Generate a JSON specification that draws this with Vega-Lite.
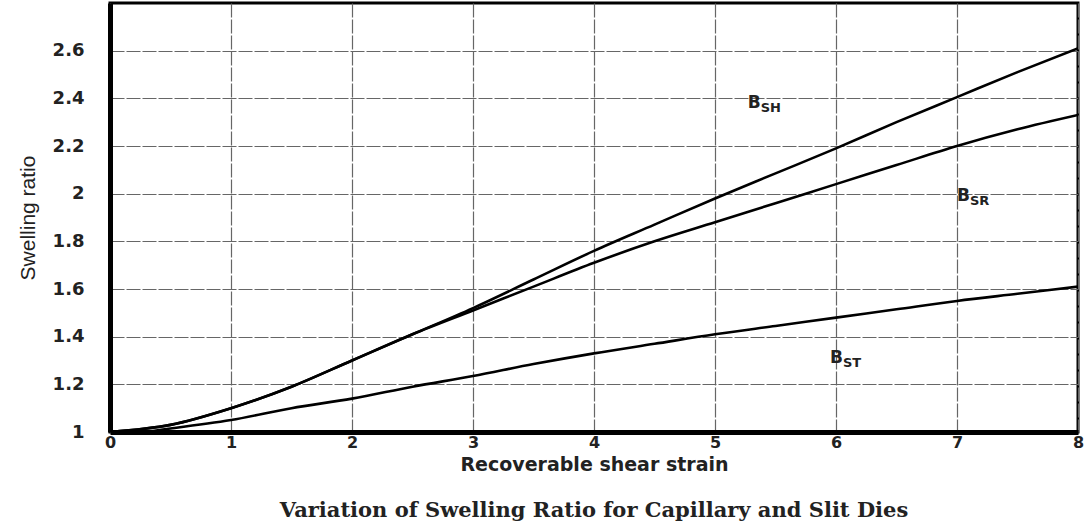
{
  "$schema": "https://vega.github.io/schema/vega-lite/v6.json",
  "autosize": "none",
  "width": 968,
  "height": 429,
  "padding": {"left": 110, "top": 3, "right": 6, "bottom": 91},
  "background": "white",
  "title": {
    "text": "Variation of Swelling Ratio for Capillary and Slit Dies",
    "orient": "bottom",
    "anchor": "middle",
    "font": "DejaVu Serif",
    "fontSize": 21,
    "fontWeight": "bold",
    "color": "#222",
    "offset": 26
  },
  "config": {
    "view": {"stroke": "black", "strokeWidth": 3},
    "axis": {
      "labelFont": "DejaVu Sans",
      "labelFontWeight": "bold",
      "labelFontSize": 18,
      "labelColor": "#222",
      "titleFont": "DejaVu Sans",
      "titleColor": "#222",
      "gridColor": "#666",
      "gridWidth": 1.2,
      "gridDash": [14, 2],
      "domainColor": "black",
      "domainWidth": 5,
      "ticks": false
    }
  },
  "datasets": {
    "curves": [
      {"curve": "BSH", "x": 0, "y": 1.0},
      {"curve": "BSH", "x": 0.5, "y": 1.03},
      {"curve": "BSH", "x": 1, "y": 1.10},
      {"curve": "BSH", "x": 1.5, "y": 1.19},
      {"curve": "BSH", "x": 2, "y": 1.30},
      {"curve": "BSH", "x": 2.5, "y": 1.41},
      {"curve": "BSH", "x": 3, "y": 1.52},
      {"curve": "BSH", "x": 3.5, "y": 1.64},
      {"curve": "BSH", "x": 4, "y": 1.76},
      {"curve": "BSH", "x": 4.5, "y": 1.87},
      {"curve": "BSH", "x": 5, "y": 1.98},
      {"curve": "BSH", "x": 5.5, "y": 2.085},
      {"curve": "BSH", "x": 6, "y": 2.19},
      {"curve": "BSH", "x": 6.5, "y": 2.30},
      {"curve": "BSH", "x": 7, "y": 2.405},
      {"curve": "BSH", "x": 7.5, "y": 2.51},
      {"curve": "BSH", "x": 8, "y": 2.61},
      {"curve": "BSR", "x": 0, "y": 1.0},
      {"curve": "BSR", "x": 0.5, "y": 1.03},
      {"curve": "BSR", "x": 1, "y": 1.10},
      {"curve": "BSR", "x": 1.5, "y": 1.19},
      {"curve": "BSR", "x": 2, "y": 1.30},
      {"curve": "BSR", "x": 2.5, "y": 1.41},
      {"curve": "BSR", "x": 3, "y": 1.51},
      {"curve": "BSR", "x": 3.5, "y": 1.61},
      {"curve": "BSR", "x": 4, "y": 1.71},
      {"curve": "BSR", "x": 4.5, "y": 1.80},
      {"curve": "BSR", "x": 5, "y": 1.88},
      {"curve": "BSR", "x": 5.5, "y": 1.96},
      {"curve": "BSR", "x": 6, "y": 2.04},
      {"curve": "BSR", "x": 6.5, "y": 2.12},
      {"curve": "BSR", "x": 7, "y": 2.20},
      {"curve": "BSR", "x": 7.5, "y": 2.27},
      {"curve": "BSR", "x": 8, "y": 2.33},
      {"curve": "BST", "x": 0, "y": 1.0},
      {"curve": "BST", "x": 0.25, "y": 1.0},
      {"curve": "BST", "x": 0.5, "y": 1.015},
      {"curve": "BST", "x": 1, "y": 1.05},
      {"curve": "BST", "x": 1.5, "y": 1.10},
      {"curve": "BST", "x": 2, "y": 1.14},
      {"curve": "BST", "x": 2.5, "y": 1.19},
      {"curve": "BST", "x": 3, "y": 1.235},
      {"curve": "BST", "x": 3.5, "y": 1.285},
      {"curve": "BST", "x": 4, "y": 1.33},
      {"curve": "BST", "x": 4.5, "y": 1.37},
      {"curve": "BST", "x": 5, "y": 1.41},
      {"curve": "BST", "x": 5.5, "y": 1.445},
      {"curve": "BST", "x": 6, "y": 1.48},
      {"curve": "BST", "x": 6.5, "y": 1.515},
      {"curve": "BST", "x": 7, "y": 1.55},
      {"curve": "BST", "x": 7.5, "y": 1.58},
      {"curve": "BST", "x": 8, "y": 1.61}
    ],
    "labels": [
      {"main": "B", "sub": "SH", "x": 5.27, "y": 2.38},
      {"main": "B", "sub": "SR", "x": 7.0, "y": 1.99},
      {"main": "B", "sub": "ST", "x": 5.95, "y": 1.31}
    ]
  },
  "layer": [
    {
      "data": {"name": "curves"},
      "mark": {"type": "line", "interpolate": "monotone", "strokeWidth": 2.6, "color": "black", "clip": true},
      "encoding": {
        "x": {
          "field": "x", "type": "quantitative",
          "scale": {"domain": [0, 8], "nice": false},
          "axis": {
            "values": [0, 1, 2, 3, 4, 5, 6, 7, 8],
            "format": "~g",
            "title": "Recoverable shear strain",
            "titleFontSize": 19,
            "titleFontWeight": "bold",
            "titlePadding": 5,
            "labelPadding": 2,
            "labelFontSize": 16,
            "labelFlush": false,
            "labelOverlap": false
          }
        },
        "y": {
          "field": "y", "type": "quantitative",
          "scale": {"domain": [1, 2.8], "nice": false, "zero": false},
          "axis": {
            "values": [1, 1.2, 1.4, 1.6, 1.8, 2, 2.2, 2.4, 2.6],
            "format": "~g",
            "title": "Swelling ratio",
            "titleFont": "Liberation Sans",
            "titleFontSize": 21,
            "titleFontWeight": "normal",
            "titlePadding": 14,
            "labelPadding": 26,
            "labelFlush": false,
            "labelOverlap": false
          }
        },
        "detail": {"field": "curve", "type": "nominal"}
      }
    },
    {
      "data": {"name": "labels"},
      "mark": {"type": "text", "align": "left", "baseline": "middle", "font": "DejaVu Sans", "fontWeight": "bold", "fontSize": 17, "color": "#222"},
      "encoding": {
        "x": {"field": "x", "type": "quantitative"},
        "y": {"field": "y", "type": "quantitative"},
        "text": {"field": "main"}
      }
    },
    {
      "data": {"name": "labels"},
      "mark": {"type": "text", "align": "left", "baseline": "middle", "font": "DejaVu Sans", "fontWeight": "bold", "fontSize": 13, "color": "#222", "dx": 13, "dy": 5},
      "encoding": {
        "x": {"field": "x", "type": "quantitative"},
        "y": {"field": "y", "type": "quantitative"},
        "text": {"field": "sub"}
      }
    }
  ]
}
